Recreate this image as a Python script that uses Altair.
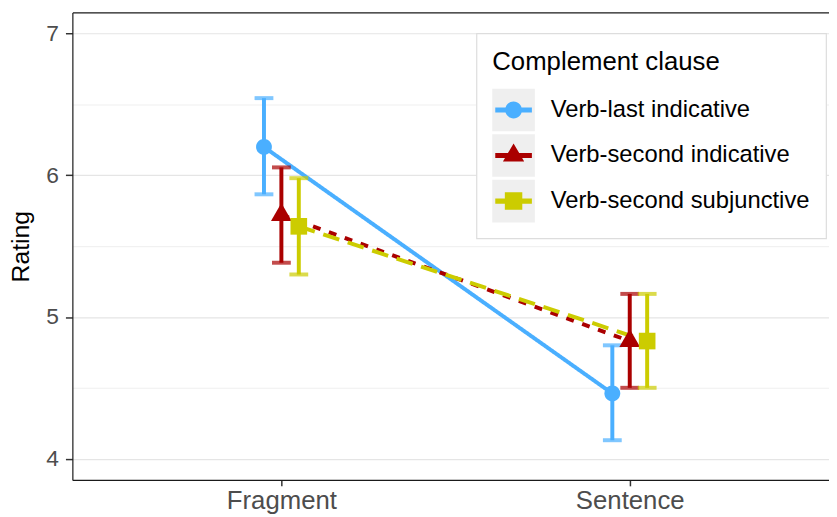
import json
import altair as alt
import pandas as pd

# ---- data ----
conditions = ["Verb-last indicative", "Verb-second indicative", "Verb-second subjunctive"]
sentence_types = ["Fragment", "Sentence"]
colors = ["#4AAFFF", "#AA0000", "#CCCC00"]

mean_fragment = [6.20, 5.72, 5.64]
mean_sentence = [4.46, 4.83, 4.83]
lower_fragment = [5.866, 5.383, 5.30]
lower_sentence = [4.13, 4.50, 4.50]
upper_fragment = [6.545, 6.056, 5.98]
upper_sentence = [4.80, 5.163, 5.163]

y_major = [4, 5, 6, 7]
y_minor = [4.5, 5.5, 6.5]

rows = []
for gi, cond in enumerate(conditions):
    for ti, st in enumerate(sentence_types):
        m = [mean_fragment, mean_sentence][ti][gi]
        lo = [lower_fragment, lower_sentence][ti][gi]
        hi = [upper_fragment, upper_sentence][ti][gi]
        rows.append(dict(cond=cond, stype=st, ti=ti + 1, gi=gi - 1, mean=m, lo=lo, hi=hi))
df = pd.DataFrame(rows)

FONT = "Liberation Sans"
DODGE = 0.05

xscale = alt.Scale(domain=[0.4, 2.572], nice=False, zero=False)
yscale = alt.Scale(domain=[3.85, 7.15], nice=False, zero=False)
cscale = alt.Scale(domain=conditions, range=colors)

label_expr = json.dumps(sentence_types) + "[datum.value - 1]"

base = alt.Chart(df).transform_calculate(xpos=f"datum.ti + {DODGE} * datum.gi")

x_bottom = alt.Axis(
    orient="bottom", values=[1, 2], labelExpr=label_expr, title=None, grid=False,
    domainColor="#1a1a1a", domainWidth=1.2, tickColor="#333333", tickWidth=1.5,
    tickSize=6, labelFontSize=26, labelColor="#4D4D4D", labelPadding=2, labelFont=FONT,
)
x_top = alt.Axis(
    orient="top", labels=False, ticks=False, title=None, grid=False,
    domainColor="#1a1a1a", domainWidth=1.2,
)
y_left = alt.Axis(
    orient="left", values=y_major, format="d", title="Rating", grid=True,
    gridColor="#E5E5E5", gridWidth=1.2, domainColor="#1a1a1a", domainWidth=1.2,
    tickColor="#333333", tickWidth=1.5, tickSize=7, labelFontSize=23,
    labelColor="#4D4D4D", labelPadding=7, labelFont=FONT, titleFont=FONT,
    titleFontSize=25, titleColor="black", titleFontWeight="normal", titlePadding=13,
)
y_minor_axis = alt.Axis(
    orient="right", values=y_minor, labels=False, ticks=False, domain=False,
    title=None, grid=True, gridColor="#EBEBEB", gridWidth=0.8,
)

lines = base.mark_line(strokeWidth=4).encode(
    x=alt.X("xpos:Q", scale=xscale, axis=x_bottom),
    y=alt.Y("mean:Q", scale=yscale, axis=y_left),
    color=alt.Color("cond:N", scale=cscale, legend=None),
    strokeDash=alt.StrokeDash(
        "cond:N", scale=alt.Scale(domain=conditions, range=[[1, 0], [8, 9], [17, 9]]), legend=None
    ),
)

errorbars = base.mark_errorbar(ticks=True, thickness=4, size=19).encode(
    x=alt.X("xpos:Q", scale=xscale, axis=None),
    y=alt.Y("lo:Q", scale=yscale, axis=None),
    y2="hi:Q",
    color=alt.Color("cond:N", scale=cscale, legend=None),
)

point_paths = [
    "M0.8,0A0.8,0.8,0,1,1,-0.8,0A0.8,0.8,0,1,1,0.8,0Z",
    "M0,-1.21L1.05,0.61L-1.05,0.61Z",
    "M-0.84,-0.84H0.84V0.84H-0.84Z",
]
points = base.mark_point(filled=True, opacity=1, size=400, strokeWidth=0).encode(
    x=alt.X("xpos:Q", scale=xscale, axis=x_top),
    y=alt.Y("mean:Q", scale=yscale, axis=y_minor_axis),
    color=alt.Color("cond:N", scale=cscale, legend=None),
    shape=alt.Shape("cond:N", scale=alt.Scale(domain=conditions, range=point_paths), legend=None),
)

# ---- legend: grey key backgrounds + box (drawn first), then keys and text ----
common_legend = dict(
    orient="none", legendX=408, legendY=21, padding=16, symbolSize=1849,
    symbolStrokeWidth=0, rowPadding=3, titlePadding=14, labelOffset=16,
    labelFontSize=24, titleFontSize=26, titleFontWeight="normal", labelLimit=600,
    titleLimit=600, labelFont=FONT, titleFont=FONT, title="Complement clause",
    symbolOpacity=1,
)
legend_bg = alt.Legend(
    **common_legend, fillColor="white", strokeColor="#DDDDDD",
    labelColor="rgba(0,0,0,0)", titleColor="rgba(0,0,0,0)", symbolType="square", zindex=1,
)
legend_fg = alt.Legend(**common_legend, labelColor="black", titleColor="black", zindex=2)

bg_layer = (
    alt.Chart(df)
    .transform_calculate(legend_bg="datum.cond")
    .transform_filter("false")
    .mark_point(filled=True, opacity=1, shape="square")
    .encode(color=alt.Color("legend_bg:N", scale=alt.Scale(domain=conditions, range=["#EFEFEF"] * 3), legend=legend_bg))
)

# zero-area corner sub-paths keep every key's box the full key size
KEY_BOX = "M-1,-1L-1,-1ZM1,1L1,1Z"
legend_paths = [
    KEY_BOX + "M-0.86,-0.12H0.86V0.12H-0.86ZM0.395,0A0.395,0.395,0,1,1,-0.395,0A0.395,0.395,0,1,1,0.395,0Z",
    KEY_BOX + "M-0.86,-0.12H0.86V0.12H-0.86ZM0,-0.56L0.5,0.28L-0.5,0.28Z",
    KEY_BOX + "M-0.86,-0.12H0.86V0.12H-0.86ZM-0.41,-0.41H0.41V0.41H-0.41Z",
]
fg_layer = (
    alt.Chart(df)
    .transform_calculate(legend_fg="datum.cond")
    .transform_filter("false")
    .mark_point(filled=True, opacity=1)
    .encode(
        color=alt.Color("legend_fg:N", scale=alt.Scale(domain=conditions, range=colors), legend=legend_fg),
        shape=alt.Shape("legend_fg:N", scale=alt.Scale(domain=conditions, range=legend_paths), legend=legend_fg),
    )
)

chart = (
    alt.layer(lines, errorbars, points, bg_layer, fg_layer)
    .resolve_scale(color="independent", shape="independent", strokeDash="independent")
    .resolve_axis(x="independent", y="independent")
    .properties(
        width=764, height=472,
        padding={"left": 65, "right": 0, "top": 2, "bottom": 35},
        autosize=alt.AutoSizeParams(type="none"),
    )
    .configure(font=FONT)
    .configure_view(stroke=None)
    .configure_legend(strokeWidth=1.2)
)

chart.save("out.html", embed_options={"renderer": "svg", "actions": False})
